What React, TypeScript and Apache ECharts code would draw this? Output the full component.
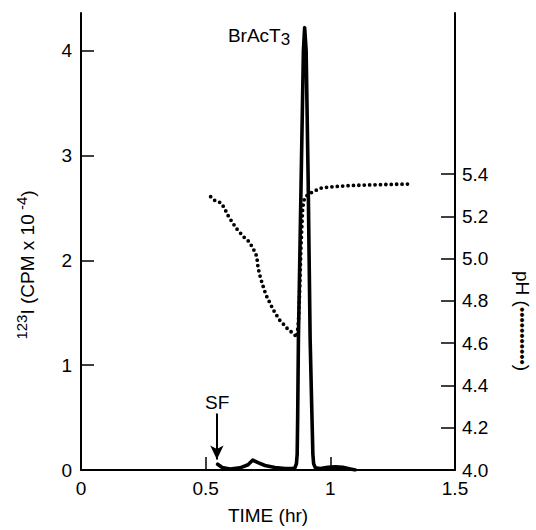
import React, { useEffect, useRef } from "react";
import * as echarts from "echarts";

// 123I counts (CPM x 10^-4) vs time (hr)
const CPM_TIME = [
  0.548, 0.566, 0.598, 0.638, 0.67, 0.689, 0.71, 0.738, 0.778, 0.819, 0.847,
  0.858, 0.864, 0.867, 0.869, 0.872, 0.883, 0.892, 0.897, 0.903, 0.911, 0.919,
  0.926, 0.93, 0.933, 0.94, 0.96, 0.99, 1.02, 1.05, 1.08, 1.1,
];
const CPM_VALUES = [
  0.055, 0.024, 0.01, 0.02, 0.05, 0.095, 0.07, 0.043, 0.024, 0.015, 0.015,
  0.02, 0.06, 0.15, 0.5, 1.25, 2.78, 4.0, 4.22, 4.0, 2.78, 1.25,
  0.54, 0.15, 0.06, 0.02, 0.015, 0.025, 0.03, 0.025, 0.01, 0.0,
];

// pH (dotted) vs time (hr)
const PH_TIME = [
  0.52, 0.538, 0.561, 0.575, 0.585, 0.595, 0.607, 0.621, 0.637, 0.655, 0.675,
  0.689, 0.701, 0.706, 0.709, 0.714, 0.72, 0.728, 0.736, 0.746, 0.758, 0.77,
  0.784, 0.796, 0.815, 0.832, 0.852, 0.866, 0.872, 0.876, 0.882, 0.889, 0.897,
  0.906, 0.922, 0.939, 0.959, 0.979, 1.079, 1.2, 1.313,
];
const PH_VALUES = [
  5.293, 5.274, 5.264, 5.24, 5.215, 5.192, 5.173, 5.146, 5.124, 5.1, 5.079,
  5.05, 5.024, 5.0, 4.968, 4.937, 4.909, 4.878, 4.848, 4.818, 4.79, 4.76,
  4.733, 4.71, 4.686, 4.663, 4.646, 4.628, 4.7, 4.81, 5.05, 5.24, 5.29,
  5.298, 5.311, 5.321, 5.333, 5.337, 5.346, 5.35, 5.353,
];

const X_LABELS = [0, 0.5, 1, 1.5];
const X_TICKS = [0.5, 1];
const LEFT_LABELS = [0, 1, 2, 3, 4];
const LEFT_TICKS = [1, 2, 3, 4];
const RIGHT_LABELS = [4.0, 4.2, 4.4, 4.6, 4.8, 5.0, 5.2, 5.4];
const RIGHT_TICKS = [4.2, 4.4, 4.6, 4.8, 5.0, 5.2, 5.4];

// annotations (data coordinates)
const PEAK_LABEL = { time: 0.714, cpm: 4.15 };
const SF_LABEL = { time: 0.546, cpm: 0.64 };
const SF_ARROW = { time: 0.545, from: 0.54, to: 0.1 };

const FONT = "'Liberation Sans', Arial, Helvetica, sans-serif";
const INK = "#000";

export default function App() {
  const ref = useRef<HTMLDivElement>(null);

  useEffect(() => {
    if (!ref.current) return;
    const chart = echarts.init(ref.current, undefined, { renderer: "svg" });

    const cpmData = CPM_TIME.map((t, i) => [t, CPM_VALUES[i]]);
    const phData = PH_TIME.map((t, i) => [t, PH_VALUES[i]]);

    const axisLine = { show: true, lineStyle: { color: INK, width: 2 } };
    const tickStyle = { color: INK, width: 1.5 };
    const labelStyle = { color: INK, fontSize: 19, fontFamily: FONT };

    chart.setOption({
      animation: false,
      backgroundColor: "#fff",
      textStyle: { fontFamily: FONT, color: INK },
      grid: { left: 81, right: 81, top: 13, bottom: 57.5, containLabel: false },
      xAxis: {
        type: "value",
        min: 0,
        max: 1.5,
        interval: 0.5,
        axisLine,
        axisTick: {
          show: true,
          inside: true,
          length: 13,
          customValues: X_TICKS,
          lineStyle: tickStyle,
        },
        axisLabel: {
          ...labelStyle,
          margin: 9,
          customValues: X_LABELS,
          formatter: (v: number) => String(v),
        },
        splitLine: { show: false },
        name: "TIME (hr)",
        nameLocation: "middle",
        nameGap: 36,
        nameTextStyle: { ...labelStyle },
      },
      yAxis: [
        {
          type: "value",
          position: "left",
          min: 0,
          max: 4.36,
          interval: 1,
          axisLine,
          axisTick: {
            show: true,
            inside: true,
            length: 13,
            customValues: LEFT_TICKS,
            lineStyle: tickStyle,
          },
          axisLabel: {
            ...labelStyle,
            margin: 9,
            customValues: LEFT_LABELS,
            formatter: (v: number) => String(v),
          },
          splitLine: { show: false },
        },
        {
          type: "value",
          position: "right",
          min: 4.0,
          max: 6.162,
          interval: 0.2,
          axisLine,
          axisTick: {
            show: true,
            inside: true,
            length: 14,
            customValues: RIGHT_TICKS,
            lineStyle: tickStyle,
          },
          axisLabel: {
            ...labelStyle,
            margin: 7,
            customValues: RIGHT_LABELS,
            formatter: (v: number) => v.toFixed(1),
          },
          splitLine: { show: false },
        },
      ],
      series: [
        {
          name: "pH",
          type: "line",
          yAxisIndex: 1,
          data: phData,
          showSymbol: false,
          symbol: "none",
          lineStyle: { color: INK, width: 3.8, type: [0, 5.4], cap: "round" },
          z: 2,
        },
        {
          name: "CPM",
          type: "line",
          yAxisIndex: 0,
          data: cpmData,
          showSymbol: false,
          symbol: "none",
          lineStyle: { color: INK, width: 3.6, join: "round", cap: "round" },
          z: 3,
          markPoint: {
            symbol: "circle",
            symbolSize: 1,
            itemStyle: { color: "rgba(0,0,0,0)" },
            data: [
              {
                name: "BrAcT3",
                coord: [PEAK_LABEL.time, PEAK_LABEL.cpm],
                label: {
                  show: true,
                  position: "inside",
                  formatter: "BrAcT{sub|3}",
                  color: INK,
                  fontSize: 19,
                  fontFamily: FONT,
                  lineHeight: 26,
                  rich: {
                    sub: {
                      fontSize: 17,
                      lineHeight: 17,
                      verticalAlign: "bottom",
                      color: INK,
                      fontFamily: FONT,
                    },
                  },
                },
              },
              {
                name: "SF",
                coord: [SF_LABEL.time, SF_LABEL.cpm],
                label: {
                  show: true,
                  position: "inside",
                  formatter: "SF",
                  color: INK,
                  fontSize: 19,
                  fontFamily: FONT,
                },
              },
            ],
          },
          markLine: {
            silent: true,
            symbol: ["none", "arrow"],
            symbolSize: [10, 14],
            label: { show: false },
            lineStyle: { color: INK, width: 2, type: "solid" },
            data: [
              [
                { coord: [SF_ARROW.time, SF_ARROW.from] },
                { coord: [SF_ARROW.time, SF_ARROW.to] },
              ],
            ],
          },
        },
      ],
      graphic: [
        {
          type: "text",
          x: 27,
          y: 265,
          rotation: Math.PI / 2,
          style: {
            text: "{sup|123}I (CPM x 10{sup| -4})",
            fill: INK,
            fontSize: 19,
            fontFamily: FONT,
            lineHeight: 26,
            align: "center",
            verticalAlign: "middle",
            rich: {
              sup: {
                fontSize: 15,
                lineHeight: 15,
                verticalAlign: "top",
                fill: INK,
                fontFamily: FONT,
              },
            },
          },
        },
        {
          type: "text",
          x: 522,
          y: 321,
          rotation: -Math.PI / 2,
          style: {
            text: "pH ({d|•••••••••••})",
            fill: INK,
            fontSize: 19,
            fontFamily: FONT,
            align: "center",
            verticalAlign: "middle",
            rich: {
              d: { fontSize: 15, fill: INK, fontFamily: FONT },
            },
          },
        },
      ],
    });

    return () => chart.dispose();
  }, []);

  return (
    <div
      ref={ref}
      style={{ position: "fixed", left: 0, top: 0, width: 536, height: 530, background: "#fff" }}
    />
  );
}
